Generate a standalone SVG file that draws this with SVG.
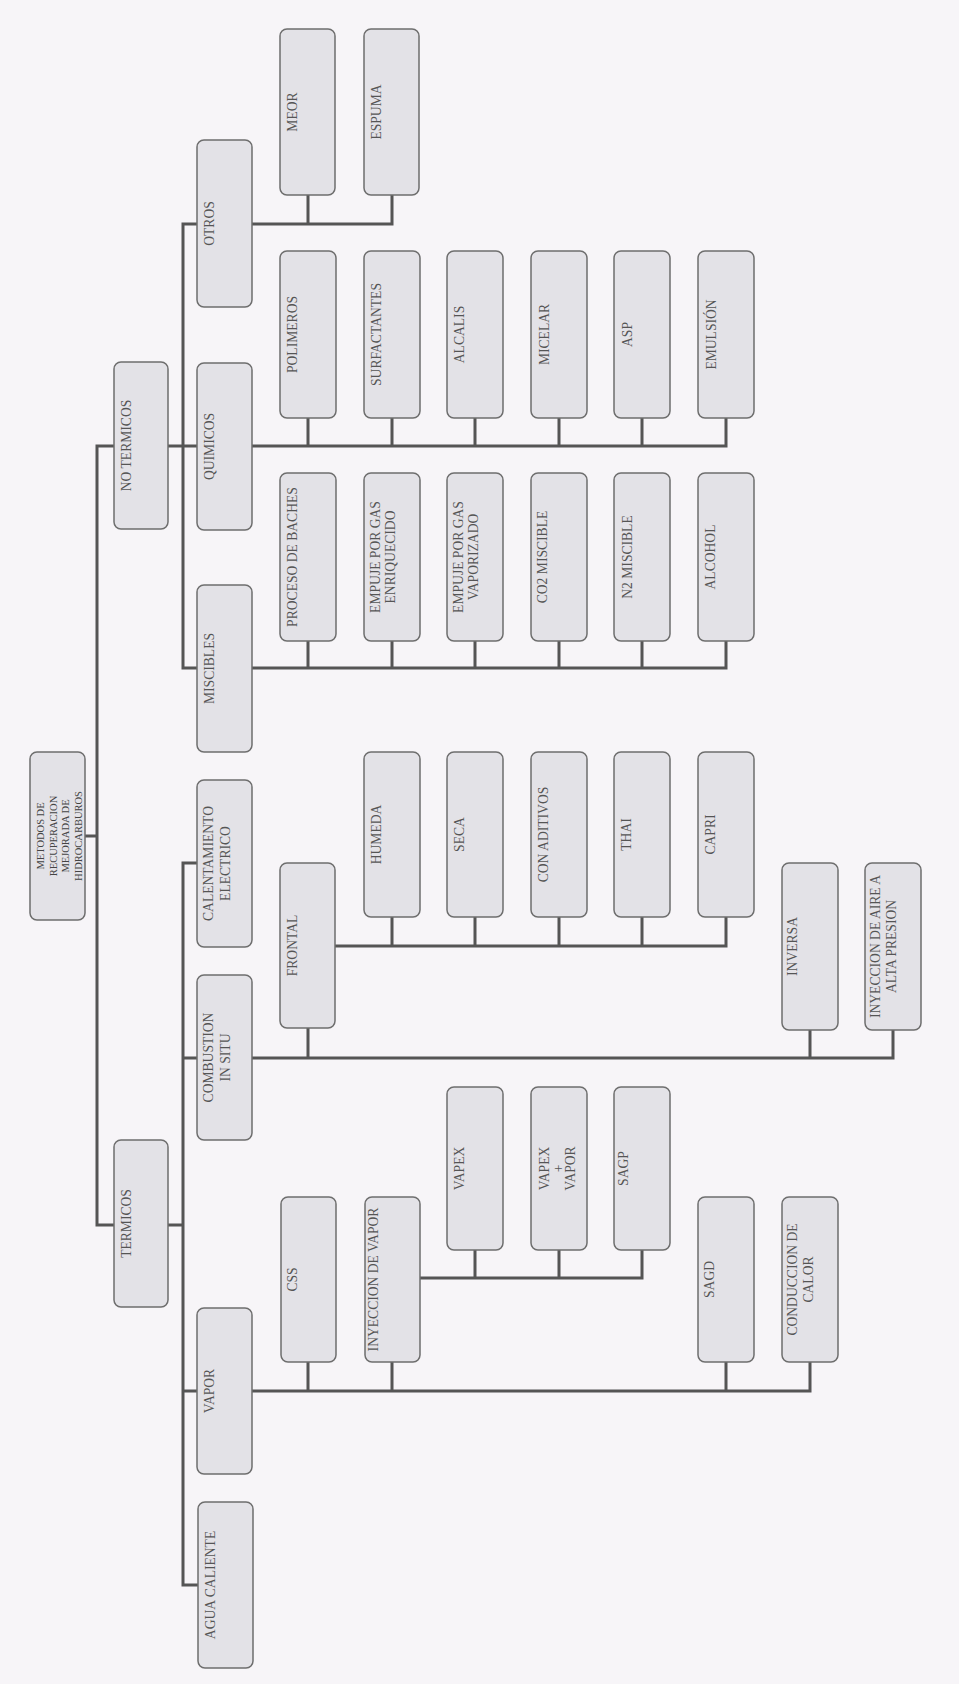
<svg xmlns="http://www.w3.org/2000/svg" width="959" height="1684" viewBox="0 0 959 1684">
<style>
.b{fill:#e3e2e7;stroke:#6e6e6e;stroke-width:1.5}
.t{font-family:"Liberation Serif","Times New Roman",serif;font-size:13.6px;fill:#555;text-anchor:middle}
.r{font-size:10.5px;fill:#444}
.c{fill:none;stroke:#555;stroke-width:3;stroke-linecap:square}
</style>
<rect width="959" height="1684" fill="#f7f5f8"/>
<g id="connectors" class="c">
<path d="M85 836H97M97 446V1225M97 446H114M97 1225H114"/>
<path d="M168 446H183M183 224V668M183 224H197M183 446H197M183 668H197"/>
<path d="M168 1225H183M183 863V1585M183 863H197M183 1058H197M183 1391H197M183 1585H198"/>
<path d="M252 224H392M308 195V224M392 195V224"/>
<path d="M252 446H726M308 418V446M392 418V446M475 418V446M559 418V446M642 418V446M726 418V446"/>
<path d="M252 668H726M308 641V668M392 641V668M475 641V668M559 641V668M642 641V668M726 641V668"/>
<path d="M252 1058H893M308 1028V1058M810 1030V1058M893 1030V1058"/>
<path d="M335 946H726M392 917V946M475 917V946M559 917V946M642 917V946M726 917V946"/>
<path d="M252 1391H810M308 1362V1391M392 1362V1391M726 1362V1391M810 1362V1391"/>
<path d="M420 1278H642M475 1250V1278M559 1250V1278M642 1250V1278"/>
</g>
<g id="root"><rect class="b" x="30" y="752" width="55" height="168" rx="7"/>
<text class="t r" transform="translate(30,836) rotate(-90)"><tspan x="0" y="14">METODOS DE</tspan><tspan x="0" y="26.5">RECUPERACION</tspan><tspan x="0" y="39">MEJORADA DE</tspan><tspan x="0" y="51.5">HIDROCARBUROS</tspan></text></g>
<g id="no-termicos"><rect class="b" x="114" y="362" width="54" height="167" rx="7"/>
<text class="t" transform="translate(114,445.5) rotate(-90)" y="16.5">NO TERMICOS</text></g>
<g id="termicos"><rect class="b" x="114" y="1140" width="54" height="167" rx="7"/>
<text class="t" transform="translate(114,1223.5) rotate(-90)" y="16.5">TERMICOS</text></g>
<g id="otros"><rect class="b" x="197" y="140" width="55" height="167" rx="7"/>
<text class="t" transform="translate(197,223.5) rotate(-90)" y="16.5">OTROS</text></g>
<g id="quimicos"><rect class="b" x="197" y="363" width="55" height="167" rx="7"/>
<text class="t" transform="translate(197,446.5) rotate(-90)" y="16.5">QUIMICOS</text></g>
<g id="miscibles"><rect class="b" x="197" y="585" width="55" height="167" rx="7"/>
<text class="t" transform="translate(197,668.5) rotate(-90)" y="16.5">MISCIBLES</text></g>
<g id="calentamiento"><rect class="b" x="197" y="780" width="55" height="167" rx="7"/>
<text class="t" transform="translate(197,863.5) rotate(-90)"><tspan x="0" y="16">CALENTAMIENTO</tspan><tspan x="0" y="33">ELECTRICO</tspan></text></g>
<g id="combustion"><rect class="b" x="197" y="975" width="55" height="165" rx="7"/>
<text class="t" transform="translate(197,1057.5) rotate(-90)"><tspan x="0" y="16">COMBUSTION</tspan><tspan x="0" y="33">IN SITU</tspan></text></g>
<g id="vapor"><rect class="b" x="197" y="1308" width="55" height="166" rx="7"/>
<text class="t" transform="translate(197,1391) rotate(-90)" y="16.5">VAPOR</text></g>
<g id="agua-caliente"><rect class="b" x="198" y="1502" width="55" height="166" rx="7"/>
<text class="t" transform="translate(198,1585) rotate(-90)" y="16.5">AGUA CALIENTE</text></g>
<g id="meor"><rect class="b" x="280" y="29" width="55" height="166" rx="7"/>
<text class="t" transform="translate(280,112) rotate(-90)" y="16.5">MEOR</text></g>
<g id="espuma"><rect class="b" x="364" y="29" width="55" height="166" rx="7"/>
<text class="t" transform="translate(364,112) rotate(-90)" y="16.5">ESPUMA</text></g>
<g id="polimeros"><rect class="b" x="280" y="251" width="56" height="167" rx="7"/>
<text class="t" transform="translate(280,334.5) rotate(-90)" y="16.5">POLIMEROS</text></g>
<g id="surfactantes"><rect class="b" x="364" y="251" width="56" height="167" rx="7"/>
<text class="t" transform="translate(364,334.5) rotate(-90)" y="16.5">SURFACTANTES</text></g>
<g id="alcalis"><rect class="b" x="447" y="251" width="56" height="167" rx="7"/>
<text class="t" transform="translate(447,334.5) rotate(-90)" y="16.5">ALCALIS</text></g>
<g id="micelar"><rect class="b" x="531" y="251" width="56" height="167" rx="7"/>
<text class="t" transform="translate(531,334.5) rotate(-90)" y="17.5">MICELAR</text></g>
<g id="asp"><rect class="b" x="614" y="251" width="56" height="167" rx="7"/>
<text class="t" transform="translate(614,334.5) rotate(-90)" y="18">ASP</text></g>
<g id="emulsion"><rect class="b" x="698" y="251" width="56" height="167" rx="7"/>
<text class="t" transform="translate(698,334.5) rotate(-90)" y="18">EMULSIÓN</text></g>
<g id="proceso-baches"><rect class="b" x="280" y="473" width="56" height="168" rx="7"/>
<text class="t" transform="translate(280,557) rotate(-90)" y="16.5">PROCESO DE BACHES</text></g>
<g id="empuje-enriquecido"><rect class="b" x="364" y="473" width="56" height="168" rx="7"/>
<text class="t" transform="translate(364,557) rotate(-90)"><tspan x="0" y="16">EMPUJE POR GAS</tspan><tspan x="0" y="31">ENRIQUECIDO</tspan></text></g>
<g id="empuje-vaporizado"><rect class="b" x="447" y="473" width="56" height="168" rx="7"/>
<text class="t" transform="translate(447,557) rotate(-90)"><tspan x="0" y="16">EMPUJE POR GAS</tspan><tspan x="0" y="31">VAPORIZADO</tspan></text></g>
<g id="co2"><rect class="b" x="531" y="473" width="56" height="168" rx="7"/>
<text class="t" transform="translate(531,557) rotate(-90)" y="16">CO2 MISCIBLE</text></g>
<g id="n2"><rect class="b" x="614" y="473" width="56" height="168" rx="7"/>
<text class="t" transform="translate(614,557) rotate(-90)" y="18">N2 MISCIBLE</text></g>
<g id="alcohol"><rect class="b" x="698" y="473" width="56" height="168" rx="7"/>
<text class="t" transform="translate(698,557) rotate(-90)" y="16.5">ALCOHOL</text></g>
<g id="frontal"><rect class="b" x="280" y="863" width="55" height="165" rx="7"/>
<text class="t" transform="translate(280,945.5) rotate(-90)" y="17">FRONTAL</text></g>
<g id="humeda"><rect class="b" x="364" y="752" width="56" height="165" rx="7"/>
<text class="t" transform="translate(364,834.5) rotate(-90)" y="17">HUMEDA</text></g>
<g id="seca"><rect class="b" x="447" y="752" width="56" height="165" rx="7"/>
<text class="t" transform="translate(447,834.5) rotate(-90)" y="17">SECA</text></g>
<g id="con-aditivos"><rect class="b" x="531" y="752" width="56" height="165" rx="7"/>
<text class="t" transform="translate(531,834.5) rotate(-90)" y="17">CON ADITIVOS</text></g>
<g id="thai"><rect class="b" x="614" y="752" width="56" height="165" rx="7"/>
<text class="t" transform="translate(614,834.5) rotate(-90)" y="17">THAI</text></g>
<g id="capri"><rect class="b" x="698" y="752" width="56" height="165" rx="7"/>
<text class="t" transform="translate(698,834.5) rotate(-90)" y="17">CAPRI</text></g>
<g id="inversa"><rect class="b" x="782" y="863" width="56" height="167" rx="7"/>
<text class="t" transform="translate(782,946.5) rotate(-90)" y="15">INVERSA</text></g>
<g id="inyeccion-aire"><rect class="b" x="865" y="863" width="56" height="167" rx="7"/>
<text class="t" transform="translate(865,946.5) rotate(-90)"><tspan x="0" y="15">INYECCION DE AIRE A</tspan><tspan x="0" y="31">ALTA PRESION</tspan></text></g>
<g id="vapex"><rect class="b" x="447" y="1087" width="56" height="163" rx="7"/>
<text class="t" transform="translate(447,1168.5) rotate(-90)" y="17">VAPEX</text></g>
<g id="vapex-vapor"><rect class="b" x="531" y="1087" width="56" height="163" rx="7"/>
<text class="t" transform="translate(531,1168.5) rotate(-90)"><tspan x="0" y="18">VAPEX</tspan><tspan x="0" y="31.5">+</tspan><tspan x="0" y="44">VAPOR</tspan></text></g>
<g id="sagp"><rect class="b" x="614" y="1087" width="56" height="163" rx="7"/>
<text class="t" transform="translate(614,1168.5) rotate(-90)" y="14">SAGP</text></g>
<g id="css"><rect class="b" x="281" y="1197" width="55" height="165" rx="7"/>
<text class="t" transform="translate(281,1279.5) rotate(-90)" y="16">CSS</text></g>
<g id="inyeccion-vapor"><rect class="b" x="365" y="1197" width="55" height="165" rx="7"/>
<text class="t" transform="translate(365,1279.5) rotate(-90)" y="13">INYECCION DE VAPOR</text></g>
<g id="sagd"><rect class="b" x="698" y="1197" width="56" height="165" rx="7"/>
<text class="t" transform="translate(698,1279.5) rotate(-90)" y="16">SAGD</text></g>
<g id="conduccion"><rect class="b" x="782" y="1197" width="56" height="165" rx="7"/>
<text class="t" transform="translate(782,1279.5) rotate(-90)"><tspan x="0" y="15">CONDUCCION DE</tspan><tspan x="0" y="31">CALOR</tspan></text></g>
</svg>
